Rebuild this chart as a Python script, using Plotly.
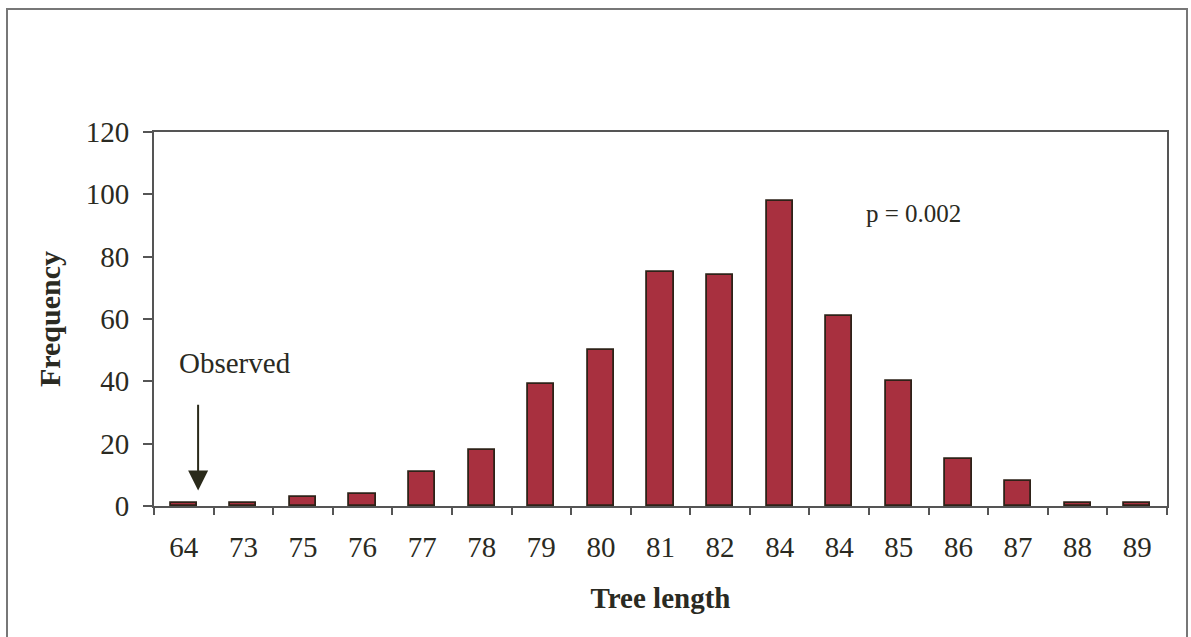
import plotly.graph_objects as go

tree_length_labels = ["64", "73", "75", "76", "77", "78", "79", "80", "81",
                      "82", "84", "84", "85", "86", "87", "88", "89"]
frequency = [1, 1, 3, 4, 11, 18, 39, 50, 75, 74, 98, 61, 40, 15, 8, 1, 1]
y_ticks = [0, 20, 40, 60, 80, 100, 120]

W, H = 1191, 637
L, R, T, B = 154, 1167, 132, 506

positions = list(range(len(frequency)))
boundaries = [p - 0.5 for p in positions] + [positions[-1] + 0.5]

FONT = "Liberation Serif, Times New Roman, serif"
TXT = "#2a2a22"

fig = go.Figure()
fig.add_trace(go.Bar(
    x=positions, y=frequency, width=0.44,
    marker=dict(color="#A8303F", line=dict(color="#2e2218", width=1.8)),
    showlegend=False, hoverinfo="y",
))
# invisible trace to activate the boundary-tick axis
fig.add_trace(go.Scatter(x=[boundaries[0], boundaries[-1]], y=[0, 0], xaxis="x2",
                         mode="lines", line=dict(width=0), showlegend=False,
                         hoverinfo="skip"))

fig.update_layout(
    width=W, height=H,
    margin=dict(l=L, r=W - R, t=T, b=H - B),
    paper_bgcolor="white", plot_bgcolor="white",
    font=dict(family=FONT, color=TXT, size=28),
    bargap=0,
    xaxis=dict(
        range=[boundaries[0], boundaries[-1]],
        tickvals=positions, ticktext=tree_length_labels,
        ticks="", showgrid=False, zeroline=False,
        showline=True, linecolor="#555555", linewidth=2, mirror=True,
        tickfont=dict(size=29, family=FONT, color=TXT),
        title=dict(text="<b>Tree length</b>", font=dict(size=29, family=FONT, color=TXT),
                   standoff=26),
        ticklabelstandoff=14,
    ),
    xaxis2=dict(
        overlaying="x", anchor="y", side="bottom",
        range=[boundaries[0], boundaries[-1]],
        tickvals=boundaries, showticklabels=False,
        ticks="outside", ticklen=8, tickwidth=1.5, tickcolor="#555555",
        showgrid=False, zeroline=False, showline=False,
    ),
    yaxis=dict(
        range=[0, 120], tickvals=y_ticks,
        ticks="outside", ticklen=9, tickwidth=1.5, tickcolor="#555555",
        showgrid=False, zeroline=False,
        showline=True, linecolor="#555555", linewidth=2, mirror=True,
        tickfont=dict(size=29, family=FONT, color=TXT),
        ticklabelstandoff=8,
        title=dict(text="<b>Frequency</b>", font=dict(size=30, family=FONT, color=TXT),
                   standoff=16),
    ),
)

# outer frame
pw, ph = R - L, B - T
fig.add_shape(type="rect", xref="paper", yref="paper",
              x0=(7 - L) / pw, x1=(1187 - L) / pw,
              y0=(B - 645) / ph, y1=(B - 9) / ph,
              line=dict(color="#777777", width=2), fillcolor="rgba(0,0,0,0)",
              layer="below")

# Observed arrow and label
fig.add_annotation(x=0.24, y=5.0, ax=0.24, ay=33, xref="x", yref="y",
                   axref="x", ayref="y", text="", showarrow=True,
                   arrowhead=2, arrowsize=2, arrowwidth=2, arrowcolor="#2a2a1a")
fig.add_annotation(x=0.86, y=46, xref="x", yref="y", text="Observed",
                   showarrow=False, font=dict(size=29, family=FONT, color=TXT))
fig.add_annotation(x=12.25, y=94, xref="x", yref="y", text="p = 0.002",
                   showarrow=False, font=dict(size=25, family=FONT, color=TXT))

fig.write_html("out.html")
